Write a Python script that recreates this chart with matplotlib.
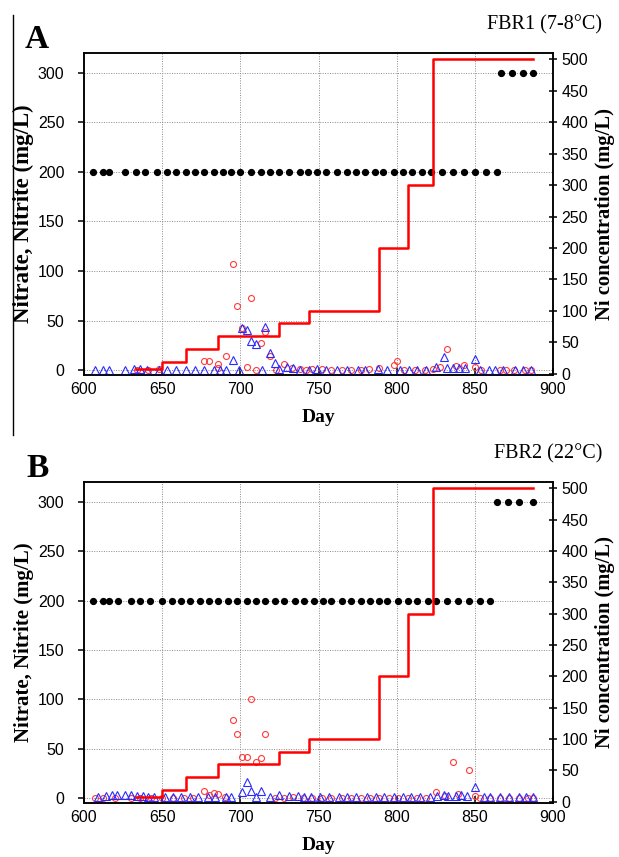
import matplotlib
matplotlib.use("Agg")
import matplotlib.pyplot as plt
from matplotlib.lines import Line2D

# ---------------- data ----------------
# influent nitrate (black dots)
a_inf_day = [606, 612, 616, 626, 633, 639, 647, 653, 659, 665, 671, 677, 683, 689, 694,
             700, 707, 713, 719, 725, 731, 738, 743, 749, 755, 762, 768, 774, 780, 786,
             791, 798, 804, 810, 816, 822, 829, 836, 843, 850, 857, 864,
             867, 874, 881, 887]
a_inf_val = [200] * 42 + [300] * 4

b_inf_day = [606, 612, 616, 622, 630, 636, 642, 650, 656, 662, 668, 674, 680, 686, 692,
             698, 704, 710, 716, 722, 728, 735, 741, 747, 753, 758, 765, 771, 777, 783,
             789, 794, 801, 807, 813, 820, 825, 832, 839, 846, 853, 860,
             864, 871, 878, 887]
b_inf_val = [200] * 42 + [300] * 4

# effluent nitrate (red circles)
a_no3_day = [634, 641, 648, 677, 680, 686, 686, 691, 695, 698, 701, 704, 707, 710, 713,
             716, 719, 723, 728, 733, 738, 742, 746, 752, 758, 765, 771, 777, 782, 789,
             798, 800, 805, 812, 818, 823, 828, 832, 838, 843, 850, 854, 866, 870, 875,
             882, 886]
a_no3_val = [0, 0, 1, 9, 9, 6, 2, 14, 107, 65, 42, 3, 73, 0, 27,
             38, 14, 0, 6, 2, 1, 0, 1, 1, 0, 0, 0, 0, 1, 2,
             5, 9, 0, 0, 0, 1, 3, 21, 4, 5, 3, 0, 0, 0, 0,
             0, 0]

b_no3_day = [607, 612, 620, 630, 636, 643, 650, 657, 664, 670, 677, 680, 683, 686, 690,
             695, 698, 701, 704, 707, 710, 713, 716, 722, 728, 734, 740, 746, 752, 758,
             765, 771, 777, 783, 789, 795, 801, 807, 813, 819, 825, 831, 836, 839, 846,
             850, 853, 860, 866, 872, 878, 884, 887]
b_no3_val = [0, 0, 0, 0, 0, 0, 0, 0, 0, 0, 7, 3, 5, 4, 1,
             79, 65, 42, 42, 100, 37, 41, 65, 0, 0, 1, 0, 0, 0, 0,
             0, 0, 0, 0, 0, 0, 0, 0, 0, 0, 6, 2, 37, 4, 28,
             2, 0, 0, 0, 0, 0, 0, 0]

# effluent nitrite (blue triangles)
a_no2_day = [607, 612, 616, 626, 632, 636, 640, 648, 653, 659, 665, 671, 677, 683, 687,
             691, 695, 699, 701, 704, 707, 710, 714, 716, 719, 722, 725, 730, 734, 738,
             744, 749, 755, 762, 768, 775, 780, 788, 794, 802, 808, 813, 819, 825, 830,
             832, 836, 840, 844, 850, 853, 859, 863, 868, 876, 881, 886]
a_no2_val = [0, 0, 0, 0, 1, 1, 0, 0, 0, 0, 0, 0, 0, 0, 0,
             0, 10, 0, 42, 40, 29, 26, 0, 43, 17, 7, 1, 3, 2, 0,
             0, 1, 0, 0, 0, 0, 0, 1, 0, 0, 0, 0, 0, 3, 13,
             2, 2, 2, 2, 11, 0, 0, 0, 0, 0, 0, 0]

b_no2_day = [609, 614, 618, 621, 626, 630, 634, 638, 641, 645, 652, 657, 662, 668, 673,
             679, 684, 691, 694, 701, 704, 707, 710, 713, 719, 725, 731, 737, 741, 745,
             751, 757, 763, 768, 774, 781, 787, 792, 798, 804, 809, 815, 821, 826, 830,
             833, 838, 841, 845, 850, 856, 860, 866, 872, 878, 883, 887]
b_no2_val = [1, 2, 3, 3, 3, 3, 2, 2, 1, 1, 1, 1, 1, 1, 1,
             1, 1, 1, 1, 6, 16, 7, 1, 7, 1, 3, 2, 2, 1, 1,
             1, 1, 1, 1, 1, 1, 1, 1, 1, 1, 1, 1, 1, 2, 3,
             2, 2, 3, 2, 11, 1, 1, 1, 1, 1, 1, 1]

# Ni concentration steps (right axis)
ni_day = [633, 650, 665, 686, 725, 744, 789, 807, 823, 887]
ni_conc = [8, 19, 40, 60, 80, 100, 200, 300, 500, 500]

panels = [
    ("A", "FBR1 (7-8\u00b0C)", a_inf_day, a_inf_val, a_no3_day, a_no3_val, a_no2_day, a_no2_val, 16.5),
    ("B", "FBR2 (22\u00b0C)", b_inf_day, b_inf_val, b_no3_day, b_no3_val, b_no2_day, b_no2_val, 15),
]

SERIF = "Liberation Serif"
SANS = "Liberation Sans"

fig = plt.figure(figsize=(6.19, 8.57), dpi=100)

# axes rectangles (fig fractions), panel A on top
rects = [[0.1357, 0.5624, 0.7577, 0.3757],
         [0.1357, 0.0630, 0.7577, 0.3746]]

for (letter, title, inf_d, inf_v, no3_d, no3_v, no2_d, no2_v, lsize), rect in zip(panels, rects):
    ax = fig.add_axes(rect)
    ax2 = ax.twinx()

    ax.set_xlim(600, 900)
    ax.set_ylim(-5, 320)
    ax2.set_ylim(-2, 510)

    ax.grid(True, color="#8a8a8a", linestyle=(0, (1, 1.5)), linewidth=0.7)
    ax.set_axisbelow(True)

    ax.plot(inf_d, inf_v, "o", color="black", ms=4.2, zorder=3)
    ax.plot(no3_d, no3_v, "o", mfc="none", mec="#ff3b3b", ms=4.3, mew=0.8, zorder=4)
    ax.plot(no2_d, no2_v, "^", mfc="none", mec="#2a2aff", ms=5.8, mew=0.8, zorder=5)
    ax2.step(ni_day, ni_conc, where="post", color="#ff0000", lw=1.8, zorder=6)

    ax.set_xticks(range(600, 901, 50))
    ax.set_yticks(range(0, 301, 50))
    ax2.set_yticks(range(0, 501, 50))

    for a in (ax, ax2):
        for sp in a.spines.values():
            sp.set_linewidth(1.1)
        a.tick_params(direction="out", length=4, width=1.1, labelsize=11.5)
        for lab in a.get_xticklabels() + a.get_yticklabels():
            lab.set_fontfamily(SANS)
    ax.tick_params(axis="x", direction="in", length=5, pad=5)
    ax.tick_params(axis="y", pad=10)
    ax2.tick_params(axis="y", direction="inout", length=6, pad=3)

    ax.set_xlabel("Day", fontfamily=SERIF, fontweight="bold", fontsize=14, labelpad=9)
    ax.set_ylabel("Nitrate, Nitrite (mg/L)", fontfamily=SERIF, fontweight="bold",
                  fontsize=lsize, labelpad=3)
    ax2.set_ylabel("Ni concentration (mg/L)", fontfamily=SERIF, fontweight="bold",
                   fontsize=14.8, labelpad=5)

    # panel letter and reactor name
    ax.text(-0.100, 1.043, letter, transform=ax.transAxes, fontfamily=SERIF,
            fontweight="bold", fontsize=24, ha="center", va="center")
    ax.text(1.105, 1.087, title, transform=ax.transAxes, fontfamily=SERIF,
            fontsize=14.5, ha="right", va="center")

# thin frame line on the left of panel A
fig.add_artist(Line2D([13 / 619, 13 / 619], [1 - 15 / 857, 1 - 435 / 857],
                      color="black", lw=1.0))

fig.savefig("out.png", dpi=100)
